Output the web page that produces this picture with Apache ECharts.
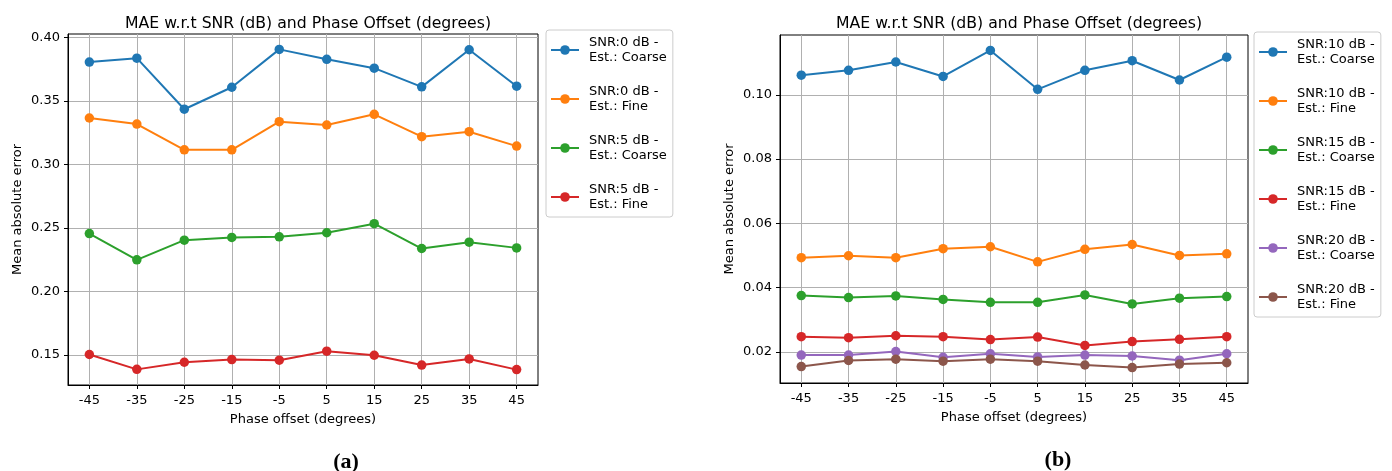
<!DOCTYPE html>
<html>
<head>
<meta charset="utf-8">
<script src="https://cdn.jsdelivr.net/npm/echarts@6/dist/echarts.min.js"></script>
<style>
  html, body { margin: 0; padding: 0; background: #fff; }
  #chart { width: 1392px; height: 471px; }
</style>
</head>
<body>
<div id="chart"></div>
<script>
// phase offsets on the x axis
const phaseOffsets = [-45, -35, -25, -15, -5, 5, 15, 25, 35, 45];

// panel (a)
const snr0Coarse = [0.3805, 0.3836, 0.3434, 0.3607, 0.3905, 0.3827, 0.3757, 0.3610, 0.3902, 0.3615];
const snr0Fine = [0.3365, 0.3317, 0.3115, 0.3115, 0.3336, 0.3310, 0.3394, 0.3218, 0.3257, 0.3144];
const snr5Coarse = [0.2456, 0.2249, 0.2404, 0.2425, 0.2430, 0.2462, 0.2533, 0.2338, 0.2388, 0.2343];
const snr5Fine = [0.1504, 0.1387, 0.1443, 0.1464, 0.1459, 0.1530, 0.1498, 0.1421, 0.1469, 0.1385];

// panel (b)
const snr10Coarse = [0.1061, 0.1076, 0.1102, 0.1057, 0.1138, 0.1017, 0.1076, 0.1106, 0.1046, 0.1117];
const snr10Fine = [0.0493, 0.0499, 0.0493, 0.0521, 0.0527, 0.0480, 0.0519, 0.0534, 0.0500, 0.0505];
const snr15Coarse = [0.0375, 0.0369, 0.0374, 0.0363, 0.0354, 0.0354, 0.0377, 0.0349, 0.0367, 0.0372];
const snr15Fine = [0.0247, 0.0244, 0.0250, 0.0247, 0.0238, 0.0246, 0.0220, 0.0232, 0.0239, 0.0247];
const snr20Coarse = [0.0190, 0.0190, 0.0201, 0.0183, 0.0194, 0.0184, 0.0190, 0.0187, 0.0174, 0.0194];
const snr20Fine = [0.0154, 0.0173, 0.0177, 0.0171, 0.0177, 0.0171, 0.0159, 0.0151, 0.0162, 0.0166];

const yTicksA = [0.15, 0.20, 0.25, 0.30, 0.35, 0.40];
const yTicksB = [0.02, 0.04, 0.06, 0.08, 0.10];

const colors = ['#1f77b4', '#ff7f0e', '#2ca02c', '#d62728', '#9467bd', '#8c564b'];
const font = 'DejaVu Sans';
const fs = 13;

const seriesA = [
  { name: 'SNR:0 dB -\nEst.: Coarse', values: snr0Coarse },
  { name: 'SNR:0 dB -\nEst.: Fine', values: snr0Fine },
  { name: 'SNR:5 dB -\nEst.: Coarse', values: snr5Coarse },
  { name: 'SNR:5 dB -\nEst.: Fine', values: snr5Fine },
];
const seriesB = [
  { name: 'SNR:10 dB -\nEst.: Coarse', values: snr10Coarse },
  { name: 'SNR:10 dB -\nEst.: Fine', values: snr10Fine },
  { name: 'SNR:15 dB -\nEst.: Coarse', values: snr15Coarse },
  { name: 'SNR:15 dB -\nEst.: Fine', values: snr15Fine },
  { name: 'SNR:20 dB -\nEst.: Coarse', values: snr20Coarse },
  { name: 'SNR:20 dB -\nEst.: Fine', values: snr20Fine },
];

const makeLine = (item, idx, gridIdx) => ({
  name: item.name,
  type: 'line',
  xAxisIndex: gridIdx,
  yAxisIndex: gridIdx,
  data: phaseOffsets.map((p, i) => [p, item.values[i]]),
  symbol: 'circle',
  symbolSize: 9.5,
  color: colors[idx],
  lineStyle: { width: 2, color: colors[idx] },
  itemStyle: { color: colors[idx] },
  emphasis: { disabled: true },
  z: 3,
});

const makeX = (gridIndex) => ({
  type: 'value',
  gridIndex: gridIndex,
  min: -49.5,
  max: 49.5,
  name: 'Phase offset (degrees)',
  nameLocation: 'middle',
  nameGap: 28,
  nameTextStyle: { fontFamily: font, fontSize: fs, color: '#000' },
  axisLine: { show: true, onZero: false, lineStyle: { color: '#000', width: 1 } },
  axisTick: { show: true, length: 4, customValues: phaseOffsets, lineStyle: { color: '#000' } },
  axisLabel: { customValues: phaseOffsets, margin: 9.5, fontFamily: font, fontSize: fs, color: '#000' },
  splitLine: { show: true, lineStyle: { color: '#b0b0b0', width: 1 } },
});

const makeY = (gridIndex, min, max, ticks, gap) => ({
  type: 'value',
  gridIndex: gridIndex,
  min: min,
  max: max,
  name: 'Mean absolute error',
  nameLocation: 'middle',
  nameGap: gap,
  nameTextStyle: { fontFamily: font, fontSize: fs, color: '#000' },
  axisLine: { show: true, onZero: false, lineStyle: { color: '#000', width: 1 } },
  axisTick: { show: true, length: 4, customValues: ticks, lineStyle: { color: '#000' } },
  axisLabel: {
    customValues: ticks, margin: 8, fontFamily: font, fontSize: fs, color: '#000',
    formatter: (v) => v.toFixed(2),
  },
  splitLine: { show: true, lineStyle: { color: '#b0b0b0', width: 1 } },
});

const makeLegend = (items, left, top) => ({
  data: items.map((s) => s.name),
  orient: 'vertical',
  left: left,
  top: top,
  itemWidth: 28,
  itemHeight: 12,
  itemGap: 19,
  padding: [5, 6, 5, 4],
  backgroundColor: '#fff',
  borderColor: '#cccccc',
  borderWidth: 1,
  borderRadius: 3,
  selectedMode: false,
  textStyle: { fontFamily: font, fontSize: fs, lineHeight: 15, color: '#000', padding: [0, 0, 0, 5] },
});

const chart = echarts.init(document.getElementById('chart'), null, { renderer: 'canvas' });
chart.setOption({
  backgroundColor: '#fff',
  animation: false,
  title: [
    { text: 'MAE w.r.t SNR (dB) and Phase Offset (degrees)', left: 303, top: 11, textAlign: 'center',
      textStyle: { fontFamily: font, fontSize: 15.7, fontWeight: 'normal', color: '#000' } },
    { text: 'MAE w.r.t SNR (dB) and Phase Offset (degrees)', left: 1014, top: 11, textAlign: 'center',
      textStyle: { fontFamily: font, fontSize: 15.7, fontWeight: 'normal', color: '#000' } },
    { text: '(a)', left: 341, top: 446, textAlign: 'center',
      textStyle: { fontFamily: 'Liberation Serif', fontSize: 22, fontWeight: 'bold', color: '#000' } },
    { text: '(b)', left: 1053, top: 444, textAlign: 'center',
      textStyle: { fontFamily: 'Liberation Serif', fontSize: 22, fontWeight: 'bold', color: '#000' } },
  ],
  legend: [
    makeLegend(seriesA, 546, 30),
    makeLegend(seriesB, 1254, 32),
  ],
  grid: [
    { left: 68, top: 34, width: 470, height: 351, show: true, borderColor: '#000', borderWidth: 1, backgroundColor: 'transparent' },
    { left: 780, top: 35, width: 468, height: 348, show: true, borderColor: '#000', borderWidth: 1, backgroundColor: 'transparent' },
  ],
  xAxis: [makeX(0), makeX(1)],
  yAxis: [
    makeY(0, 0.1264, 0.4026, yTicksA, 44),
    makeY(1, 0.0103, 0.1186, yTicksB, 44),
  ],
  series: [
    ...seriesA.map((s, i) => makeLine(s, i, 0)),
    ...seriesB.map((s, i) => makeLine(s, i, 1)),
  ],
});
</script>
</body>
</html>
